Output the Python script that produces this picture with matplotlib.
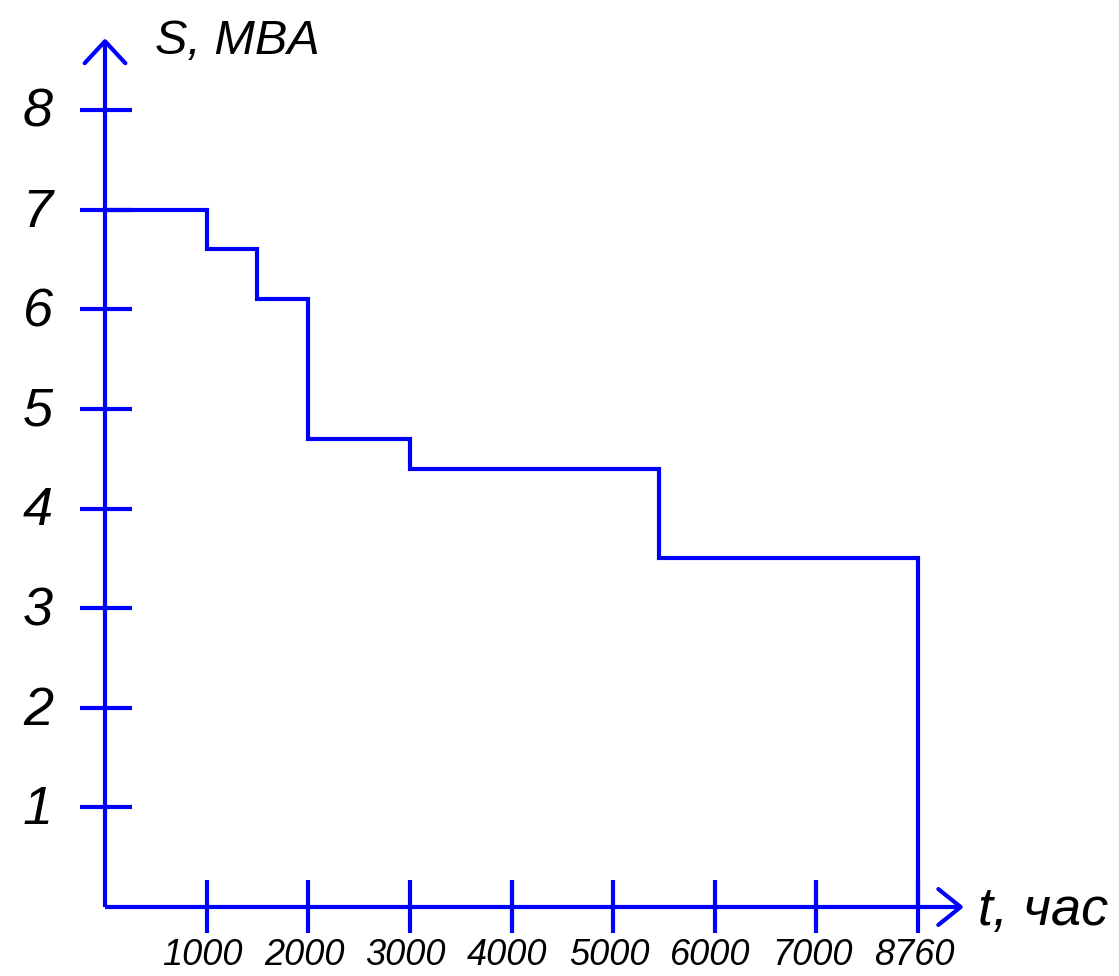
import matplotlib
matplotlib.use("Agg")
import matplotlib.pyplot as plt

# ---- data ----
step_hours = [0, 1000, 1500, 2000, 3000, 5450, 8760]
step_loads = [7.0, 6.6, 6.1, 4.7, 4.4, 3.5]
x_tick_hours = [1000, 2000, 3000, 4000, 5000, 6000, 7000, 8760]
x_tick_labels = ["1000", "2000", "3000", "4000", "5000", "6000", "7000", "8760"]
y_ticks = [1, 2, 3, 4, 5, 6, 7, 8]
y_tick_labels = ["1", "2", "3", "4", "5", "6", "7", "8"]
y_label = "S, MBA"
x_label = "t, час"


def pos(h):
    # drawing places 8760 where 8000 would be
    return h / 1000 if h <= 7000 else 7 + (h - 7000) / 1760


BLUE = "#0000ff"
LW = 3.0
FONT = ["Liberation Sans Narrow", "Liberation Sans", "DejaVu Sans"]

fig = plt.figure(figsize=(11.19, 9.76), dpi=100)
W, H = 1119, 976
ax = fig.add_axes([105 / W, 69 / H, 813 / W, 797 / H])
ax.set_xlim(0, 8)
ax.set_ylim(0, 8)
ax.axis("off")

kw = dict(color=BLUE, lw=LW, clip_on=False, solid_capstyle="butt", solid_joinstyle="miter")

# axes with arrows
ytip = 8.69
xtip = 8.42
ax.plot([0, 0], [0, ytip], **kw)
ax.plot([0, xtip], [0, 0], **kw)
ax.plot([-0.20, 0, 0.20], [ytip - 0.22, ytip, ytip - 0.22], color=BLUE, lw=LW,
        clip_on=False, solid_joinstyle="round", solid_capstyle="round")
ax.plot([xtip - 0.22, xtip, xtip - 0.22], [0.18, 0, -0.18], color=BLUE, lw=LW,
        clip_on=False, solid_joinstyle="round", solid_capstyle="round")

# ticks
for yv in y_ticks:
    ax.plot([-0.25, 0.27], [yv, yv], **kw)
for h in x_tick_hours:
    ax.plot([pos(h), pos(h)], [-0.26, 0.27], **kw)

# step curve
xs = [pos(h) for h in step_hours]
ys = step_loads + [0]
ax.step(xs, ys, where="post", color=BLUE, lw=LW, clip_on=False, solid_joinstyle="miter")

# tick labels
for yv, lab in zip(y_ticks, y_tick_labels):
    ax.text(-0.66, yv - 0.03, lab, ha="center", va="center", fontsize=39,
            fontstyle="italic", family=FONT, color="black", clip_on=False)
for h, lab in zip(x_tick_hours, x_tick_labels):
    ax.text(pos(h) - 0.04, -0.49, lab, ha="center", va="center", fontsize=26,
            fontstyle="italic", family=FONT, color="black", clip_on=False)

# axis labels
ax.text(0.49, 8.69, y_label, ha="left", va="center", fontsize=35,
        fontstyle="italic", family=FONT, color="black", clip_on=False)
ax.text(8.59, -0.18, x_label, ha="left", va="baseline", fontsize=39,
        fontstyle="italic", family=FONT, color="black", clip_on=False)

fig.savefig("out.png", dpi=100, facecolor="white")
